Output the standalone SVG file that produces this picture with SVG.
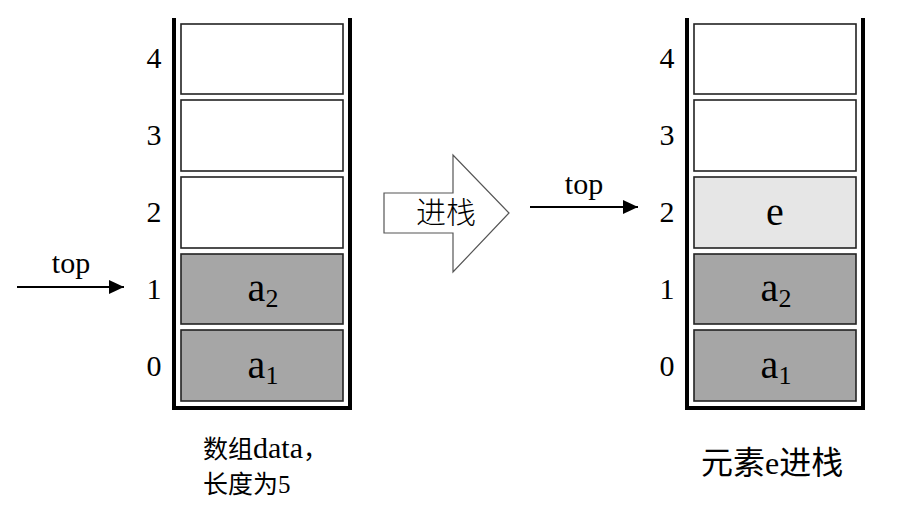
<svg xmlns="http://www.w3.org/2000/svg" width="901" height="524" viewBox="0 0 901 524">
<defs>
<style>
.wall{fill:none;stroke:#000;stroke-width:4}
.cell{stroke:#222;stroke-width:1.6}
.empty{fill:#fff}
.dark{fill:#a6a6a6}
.light{fill:#e6e6e6}
.idx{font-family:"Liberation Serif",serif;font-size:30px;fill:#000;text-anchor:middle}
.val{font-family:"Liberation Serif",serif;font-size:40px;fill:#000;text-anchor:middle}
.sub{font-size:26px}
.lbl{font-family:"Liberation Serif",serif;font-size:30px;fill:#000;text-anchor:middle}
.cjk{font-family:"Liberation Serif","Noto Sans CJK SC",sans-serif;fill:#000}
.conn{stroke:#000;stroke-width:1.8;fill:none}
</style>
<marker id="ah" viewBox="0 0 10 10" refX="10" refY="5" markerWidth="15" markerHeight="14" markerUnits="userSpaceOnUse" orient="auto" preserveAspectRatio="none">
<path d="M0,0 L10,5 L0,10 z" fill="#000"/>
</marker>
</defs>
<g id="stack-left">
<path class="wall" d="M174,18 V408 H350 V18"/>
<rect class="cell empty" x="181" y="24" width="162" height="70"/>
<rect class="cell empty" x="181" y="100" width="162" height="71"/>
<rect class="cell empty" x="181" y="177" width="162" height="71"/>
<rect class="cell dark" x="181" y="254" width="162" height="70"/>
<rect class="cell dark" x="181" y="330" width="162" height="71"/>
<text class="idx" x="154" y="68">4</text>
<text class="idx" x="154" y="145">3</text>
<text class="idx" x="154" y="222">2</text>
<text class="idx" x="154" y="299">1</text>
<text class="idx" x="154" y="376">0</text>
<text class="val" x="263" y="301">a<tspan class="sub" dy="6">2</tspan></text>
<text class="val" x="263" y="378">a<tspan class="sub" dy="6">1</tspan></text>
</g>
<g id="stack-right">
<path class="wall" d="M687,18 V408 H863 V18"/>
<rect class="cell empty" x="694" y="24" width="162" height="70"/>
<rect class="cell empty" x="694" y="100" width="162" height="71"/>
<rect class="cell light" x="694" y="177" width="162" height="71"/>
<rect class="cell dark" x="694" y="254" width="162" height="70"/>
<rect class="cell dark" x="694" y="330" width="162" height="71"/>
<text class="idx" x="667" y="68">4</text>
<text class="idx" x="667" y="145">3</text>
<text class="idx" x="667" y="222">2</text>
<text class="idx" x="667" y="299">1</text>
<text class="idx" x="667" y="376">0</text>
<text class="val" x="775" y="225">e</text>
<text class="val" x="776" y="301">a<tspan class="sub" dy="6">2</tspan></text>
<text class="val" x="776" y="378">a<tspan class="sub" dy="6">1</tspan></text>
</g>
<g id="push-arrow">
<path d="M384,193 H453 V155 L509,213 L453,272 V233 H384 Z" fill="#fff" stroke="#555" stroke-width="1.2"/>
<text x="446" y="223" text-anchor="middle" style="font-family:'Noto Sans CJK SC',sans-serif;font-size:30px;font-weight:300" fill="#000">进栈</text>
</g>
<g id="connectors">
<line class="conn" x1="17" y1="287" x2="124" y2="287" marker-end="url(#ah)"/>
<line class="conn" x1="530" y1="207" x2="638" y2="207" marker-end="url(#ah)"/>
</g>
<g id="labels">
<text class="lbl" x="71" y="273">top</text>
<text class="lbl" x="584" y="194">top</text>
<text class="cjk" x="203" y="458" style="font-size:25px">数组<tspan style="font-size:30px">data</tspan>，</text>
<text class="cjk" x="203" y="493" style="font-size:25px">长度为5</text>
<text class="cjk" x="701" y="474" style="font-size:32px">元素e进栈</text>
</g>
</svg>
